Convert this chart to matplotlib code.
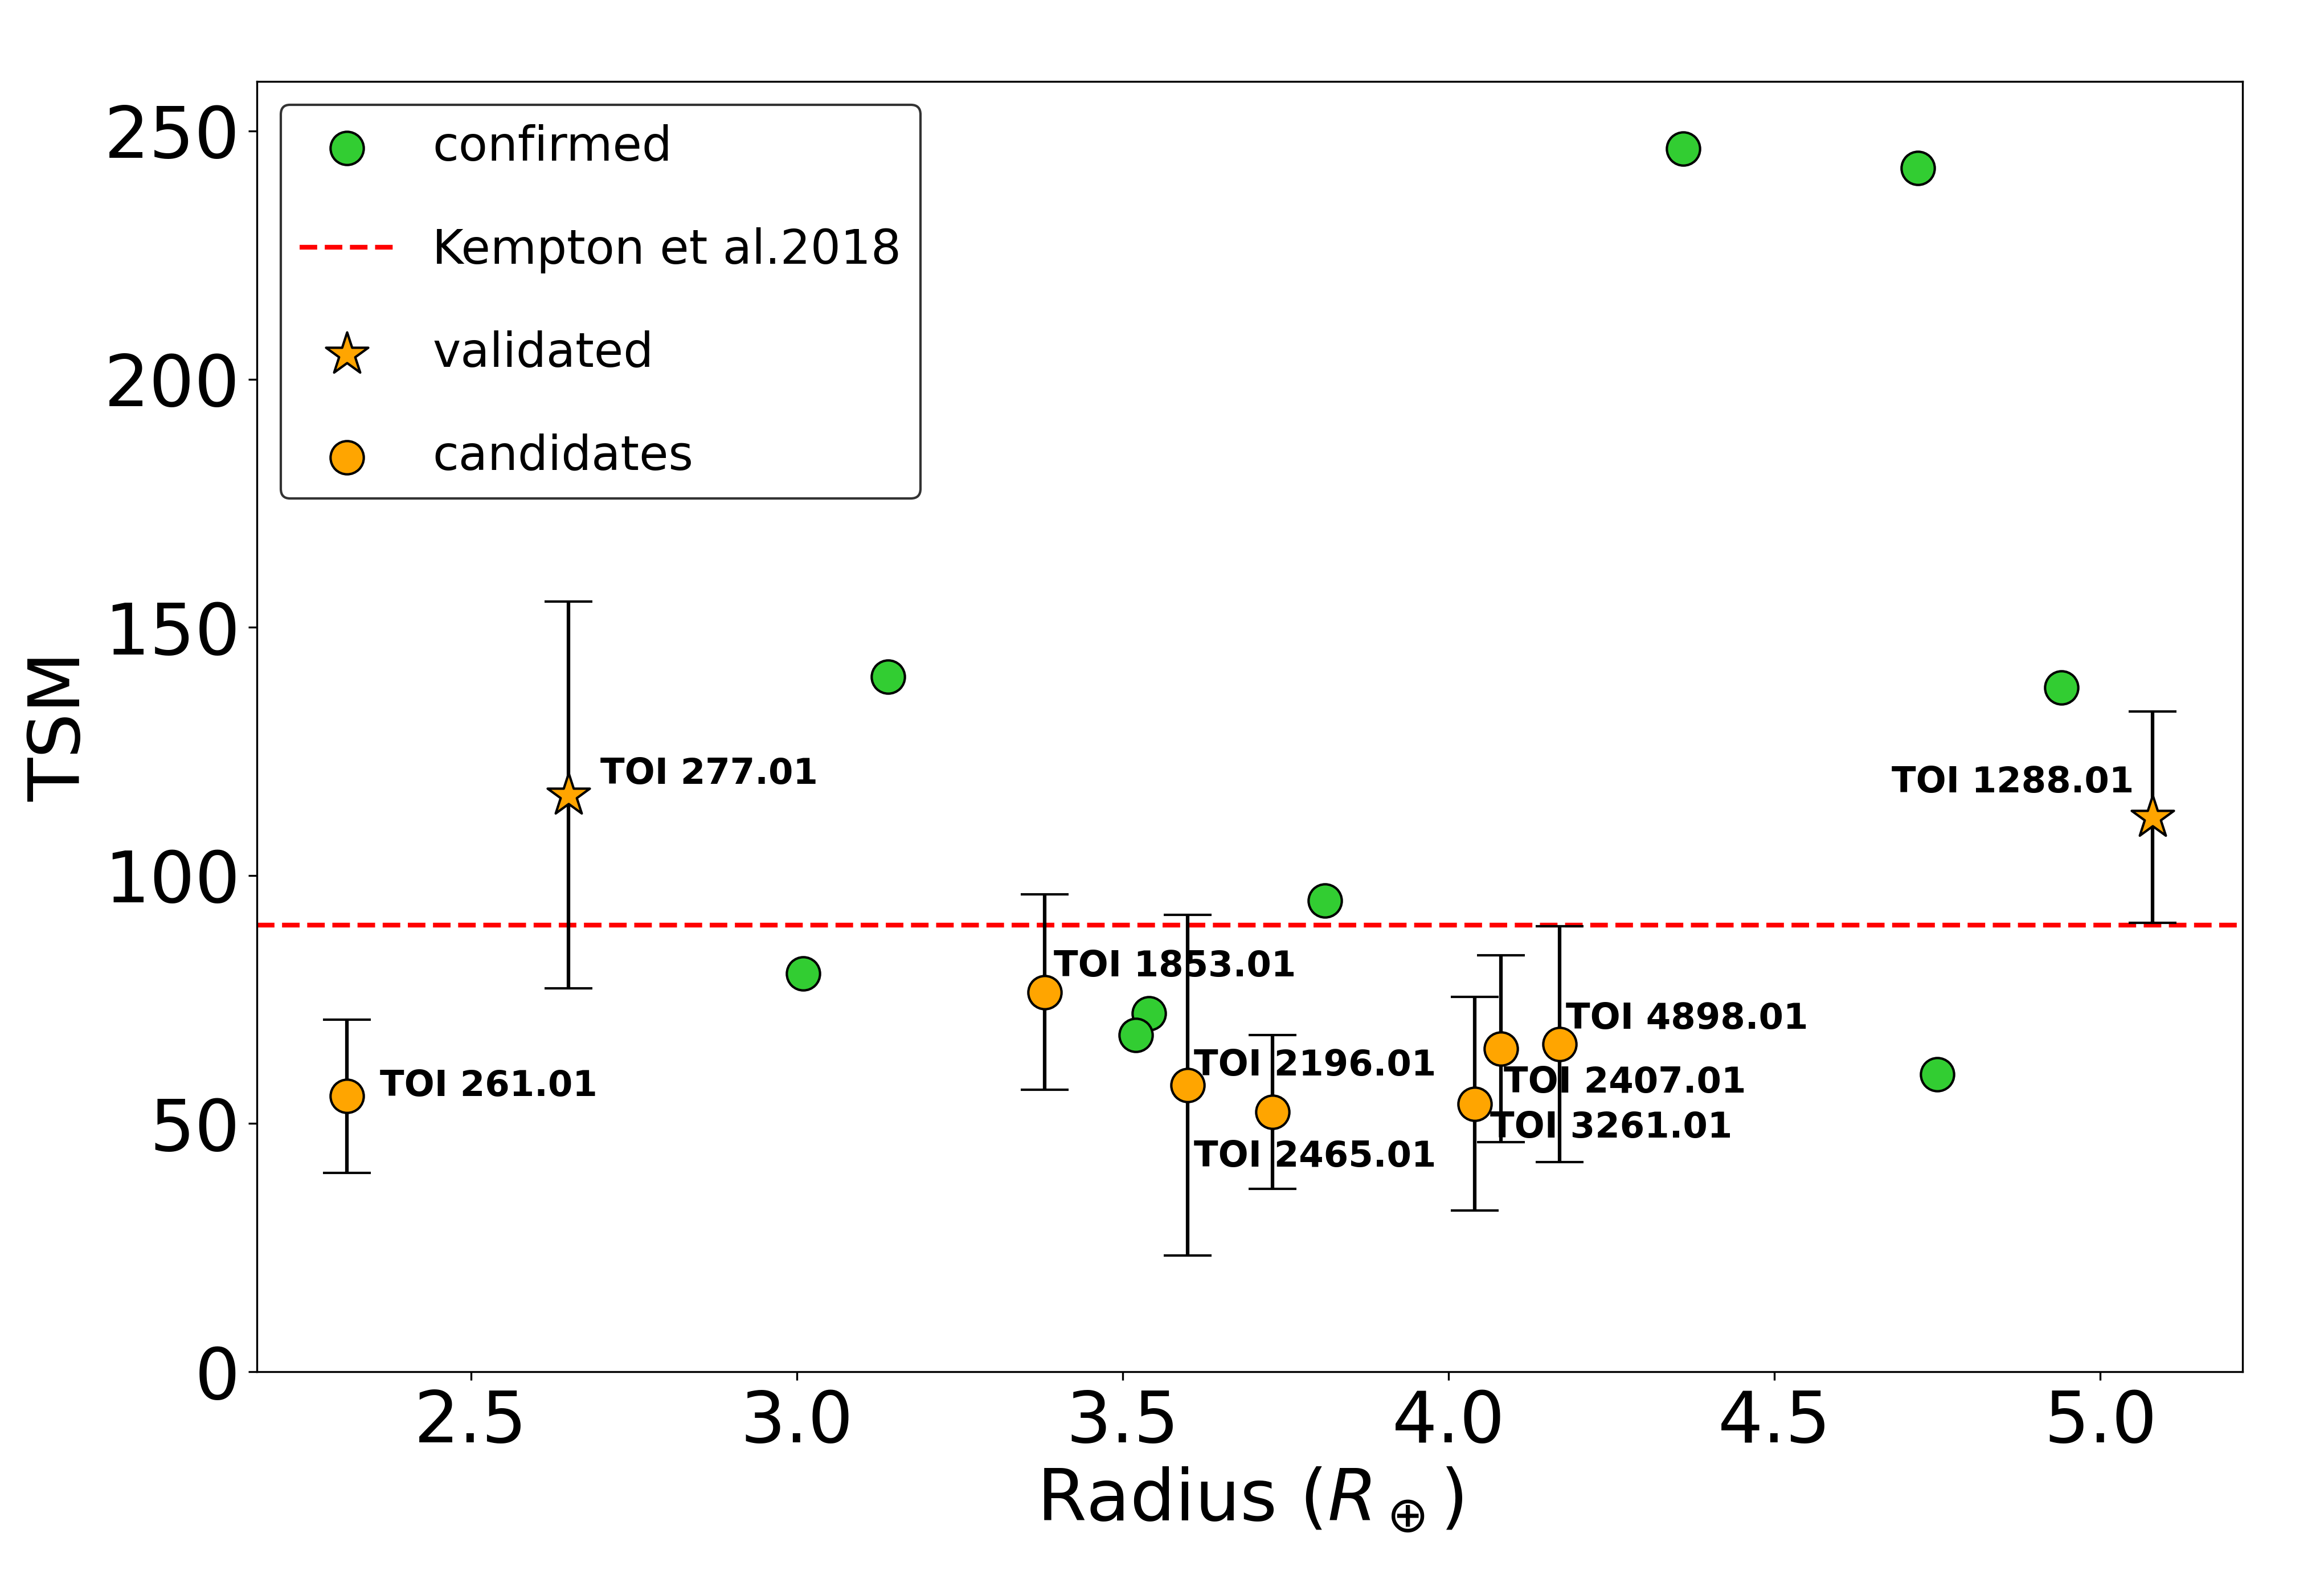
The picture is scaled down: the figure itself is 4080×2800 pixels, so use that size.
import numpy as np
import matplotlib
matplotlib.use('Agg')
import matplotlib.pyplot as plt

# confirmed planets
confirmed_radius = [4.36, 4.72, 3.14, 4.94, 3.81, 3.01, 3.54, 3.52, 4.75]
confirmed_tsm = [246.4, 242.5, 140.0, 137.9, 94.9, 80.2, 72.2, 67.8, 59.9]

# validated planets
validated_names = ['TOI 277.01', 'TOI 1288.01']
validated_radius = [2.65, 5.08]
validated_tsm = [116.2, 111.7]
validated_err = [39.0, 21.3]

# candidates
candidate_names = ['TOI 261.01', 'TOI 1853.01', 'TOI 2196.01', 'TOI 2465.01',
                   'TOI 3261.01', 'TOI 2407.01', 'TOI 4898.01']
candidate_radius = [2.31, 3.38, 3.60, 3.73, 4.04, 4.08, 4.17]
candidate_tsm = [55.5, 76.5, 57.7, 52.3, 54.0, 65.1, 66.0]
candidate_err = [15.4, 19.7, 34.3, 15.5, 21.5, 18.8, 23.8]

kempton_tsm = 90

# label offsets (data units) from each point
label_offset = {
    'TOI 261.01': (0.05, 0.0),
    'TOI 277.01': (0.049, 2.2),
    'TOI 1853.01': (0.014, 3.2),
    'TOI 2196.01': (0.009, 2.0),
    'TOI 2465.01': (-0.121, -11.0),
    'TOI 3261.01': (0.024, -6.8),
    'TOI 2407.01': (0.005, -8.9),
    'TOI 4898.01': (0.01, 3.1),
    'TOI 1288.01': (-0.40, 5.0),
}

fig, ax = plt.subplots(figsize=(13.6, 28 / 3), dpi=300)
fig.subplots_adjust(left=0.1105, right=0.965, top=0.949, bottom=0.140)

ax.scatter(confirmed_radius, confirmed_tsm, s=196, color='limegreen',
           edgecolors='k', linewidths=1, zorder=3, label='confirmed')
ax.axhline(kempton_tsm, color='r', ls='--', lw=2, label='Kempton et al.2018')

ax.errorbar(validated_radius, validated_tsm, yerr=validated_err, fmt='none',
            ecolor='k', elinewidth=1.5, capsize=10, zorder=2)
ax.errorbar(candidate_radius, candidate_tsm, yerr=candidate_err, fmt='none',
            ecolor='k', elinewidth=1.5, capsize=10, zorder=2)

ax.scatter(validated_radius, validated_tsm, s=350, marker='*', color='orange',
           edgecolors='k', linewidths=1, zorder=3, label='validated')
ax.scatter(candidate_radius, candidate_tsm, s=196, color='orange',
           edgecolors='k', linewidths=1, zorder=3, label='candidates')

for names, xs, ys in [(validated_names, validated_radius, validated_tsm),
                      (candidate_names, candidate_radius, candidate_tsm)]:
    for n, x, y in zip(names, xs, ys):
        dx, dy = label_offset[n]
        ax.text(x + dx, y + dy, n, fontsize=15, fontweight='bold', zorder=4)

ax.set_ylim(0, 260)
ax.set_xticks([2.5, 3.0, 3.5, 4.0, 4.5, 5.0])
ax.set_yticks([0, 50, 100, 150, 200, 250])
ax.tick_params(labelsize=30)
ax.set_xlabel(r'Radius ($R_\oplus$)', fontsize=30)
ax.set_ylabel('TSM', fontsize=30)

leg = ax.legend(loc='upper left', fontsize=20, labelspacing=1.2,
                edgecolor='k')

fig.savefig('out.png', dpi=300)
